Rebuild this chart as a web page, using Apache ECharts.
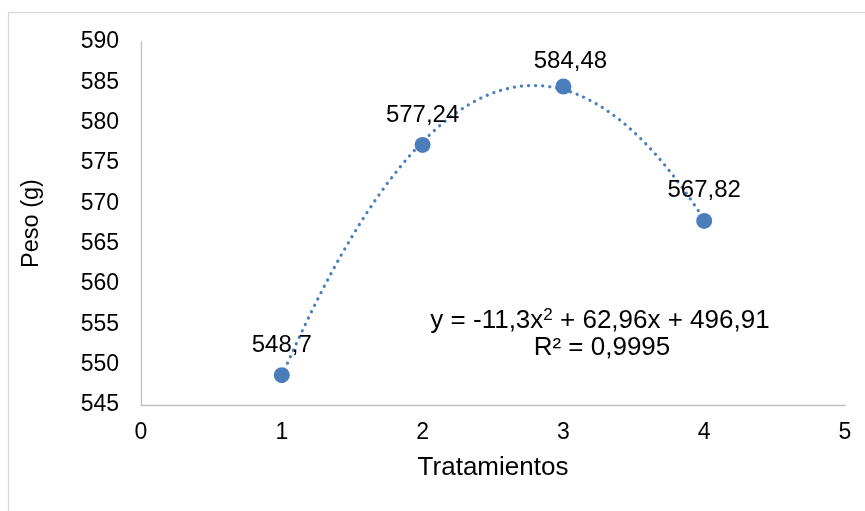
<!DOCTYPE html>
<html>
<head>
<meta charset="utf-8">
<script src="https://cdn.jsdelivr.net/npm/echarts@6/dist/echarts.min.js"></script>
<style>html,body{margin:0;padding:0;background:#fff}#c{width:865px;height:511px}</style>
</head>
<body>
<div id="c"></div>
<script>
var treatments = [1, 2, 3, 4];
var weights = [548.7, 577.24, 584.48, 567.82];
var weightLabels = ['548,7', '577,24', '584,48', '567,82'];
var trendCoef = [-11.3, 62.96, 496.91]; // a, b, c from displayed equation
var xTicks = [0, 1, 2, 3, 4, 5];
var yTicks = [545, 550, 555, 560, 565, 570, 575, 580, 585, 590];

var FONT = '"Liberation Sans", Arial, sans-serif';
var blue = '#4a7ebb';

var labelTweaks = [{d: 10, dx: 0}, {d: 10, dx: 0}, {d: 5, dx: 7}, {d: 11, dx: 0}];
var pts = treatments.map(function (x, i) {
  return {value: [x, weights[i]],
          label: {distance: labelTweaks[i].d, offset: [labelTweaks[i].dx, 0]}};
});
var trend = [];
for (var x = treatments[0]; x <= treatments[treatments.length - 1] + 1e-9; x += 0.05) {
  trend.push([x, trendCoef[0] * x * x + trendCoef[1] * x + trendCoef[2]]);
}

var chart = echarts.init(document.getElementById('c'), null, {renderer: 'canvas'});
chart.setOption({
  animation: false,
  grid: {left: 141, right: 20, top: 42, bottom: 106, containLabel: false},
  xAxis: {
    type: 'value', min: xTicks[0], max: xTicks[xTicks.length - 1], interval: 1,
    name: 'Tratamientos', nameLocation: 'middle', nameGap: 50,
    nameTextStyle: {fontFamily: FONT, fontSize: 26, color: '#000'},
    axisLine: {show: true, lineStyle: {color: '#bfbfbf', width: 1.3}},
    axisTick: {show: false},
    splitLine: {show: false},
    axisLabel: {fontFamily: FONT, fontSize: 23, color: '#000', margin: 16}
  },
  yAxis: {
    type: 'value', min: yTicks[0], max: yTicks[yTicks.length - 1], interval: 5,
    name: 'Peso (g)', nameLocation: 'middle', nameGap: 97, nameRotate: 90,
    nameTextStyle: {fontFamily: FONT, fontSize: 23.5, color: '#000'},
    axisLine: {show: true, lineStyle: {color: '#bfbfbf', width: 1.3}},
    axisTick: {show: false},
    splitLine: {show: false},
    axisLabel: {fontFamily: FONT, fontSize: 23, color: '#000', margin: 22}
  },
  graphic: [
    {type: 'rect', shape: {x: 8.5, y: 12.5, width: 900, height: 600},
     style: {fill: null, stroke: '#d9d9d9', lineWidth: 1.3}, silent: true, z: -10},
    {type: 'text', x: 600, y: 321,
     style: {text: 'y = -11,3x{sup|2} + 62,96x + 496,91', fontFamily: FONT, fontSize: 26, fill: '#000',
             align: 'center', verticalAlign: 'middle',
             rich: {sup: {fontFamily: FONT, fontSize: 17, verticalAlign: 'top', padding: [0, 0, 12, 0]}}}},
    {type: 'text', x: 602, y: 348,
     style: {text: 'R² = 0,9995', fontFamily: FONT, fontSize: 26, fill: '#000', align: 'center', verticalAlign: 'middle'}}
  ],
  series: [
    {
      type: 'line', data: trend, showSymbol: false, smooth: false, z: 1,
      lineStyle: {color: blue, width: 3.2, type: [0.1, 7], cap: 'round'},
      silent: true
    },
    {
      type: 'scatter', data: pts, symbol: 'circle', symbolSize: 16, z: 3,
      itemStyle: {color: blue, opacity: 1},
      label: {
        show: true, position: 'top', distance: 10,
        fontFamily: FONT, fontSize: 24, color: '#000',
        formatter: function (p) { return weightLabels[p.dataIndex]; }
      }
    }
  ]
});
</script>
</body>
</html>
